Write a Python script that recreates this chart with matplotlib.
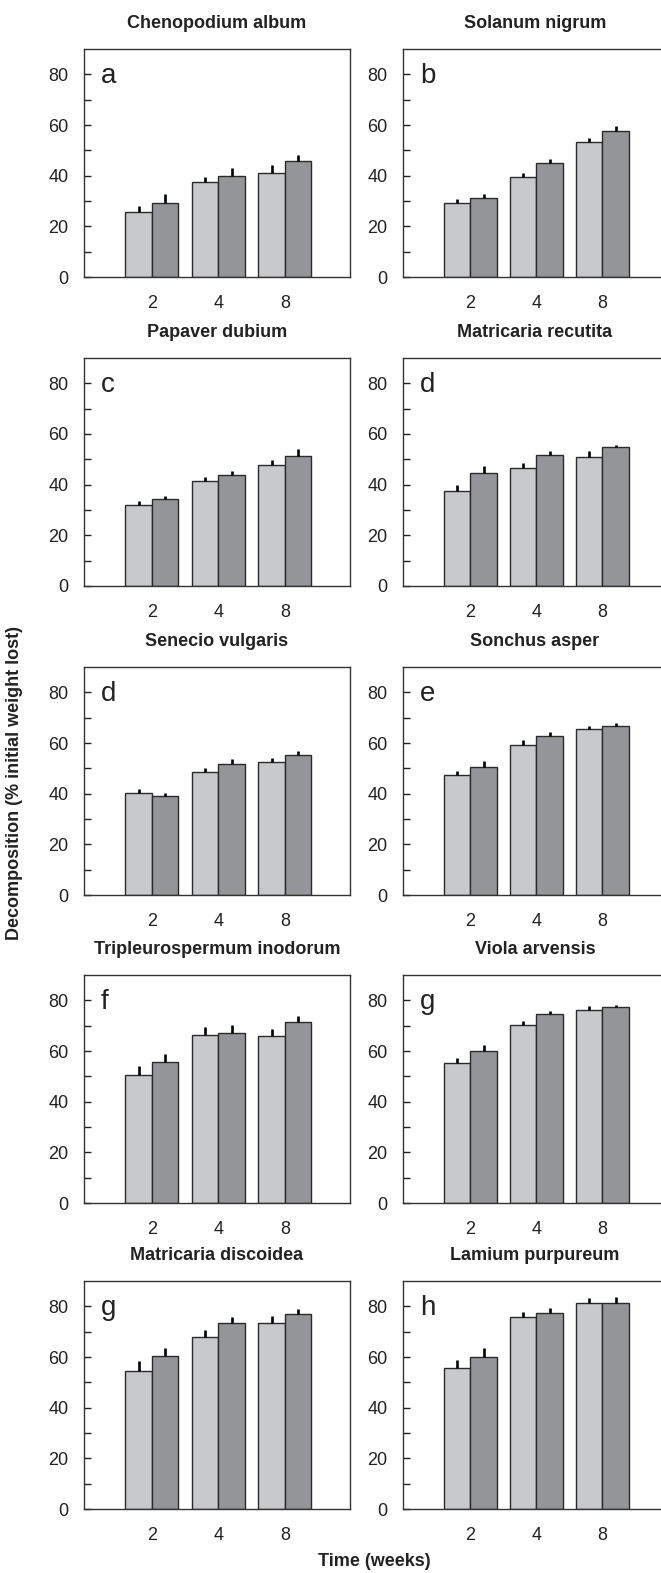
import numpy as np
import matplotlib
matplotlib.use("Agg")
import matplotlib.pyplot as plt
from matplotlib.ticker import MultipleLocator, FixedLocator

plt.rcParams['font.family'] = ['Liberation Sans', 'DejaVu Sans']

weeks = ['2', '4', '8']
titles = ['Chenopodium album', 'Solanum nigrum', 'Papaver dubium', 'Matricaria recutita',
          'Senecio vulgaris', 'Sonchus asper', 'Tripleurospermum inodorum', 'Viola arvensis',
          'Matricaria discoidea', 'Lamium purpureum']
letters = ['a', 'b', 'c', 'd', 'd', 'e', 'f', 'g', 'g', 'h']

# light bars (first treatment) and dark bars (second treatment), per species
light = [[25.5, 37.4, 40.9], [29.2, 39.6, 53.2], [31.8, 41.5, 47.7], [37.4, 46.6, 51.1],
         [40.1, 48.7, 52.5], [47.4, 59.3, 65.6], [50.6, 66.4, 66.0], [55.3, 70.1, 76.3],
         [54.6, 67.9, 73.6], [55.6, 75.7, 81.5]]
light_err = [[2.5, 2.0, 3.2], [1.4, 1.3, 1.7], [1.9, 1.7, 2.1], [2.3, 2.0, 2.1],
             [1.8, 1.4, 1.6], [1.4, 2.0, 1.2], [3.5, 3.0, 2.8], [1.9, 1.7, 1.3],
             [3.8, 2.8, 2.7], [3.1, 2.0, 1.8]]
dark = [[29.2, 39.9, 45.9], [31.2, 45.1, 57.7], [34.3, 43.8, 51.2], [44.5, 51.7, 54.7],
        [38.9, 51.7, 55.3], [50.7, 62.7, 66.7], [55.6, 67.3, 71.4], [59.9, 74.5, 77.2],
        [60.5, 73.6, 77.1], [59.9, 77.4, 81.5]]
dark_err = [[3.4, 3.0, 2.3], [1.4, 1.4, 2.0], [1.3, 1.5, 2.8], [2.8, 1.7, 0.9],
            [1.4, 2.0, 1.7], [2.0, 1.5, 1.0], [3.4, 2.8, 2.5], [2.4, 1.4, 1.0],
            [3.0, 2.3, 1.9], [3.8, 2.0, 2.1]]

W, H = 661, 1573
fig = plt.figure(figsize=(W / 100, H / 100), dpi=100)

col_left = [84, 403]
col_right = [350, 667]
row_top = [49, 358, 667, 975, 1281]
panel_h = 228

x = np.arange(len(weeks))
bw = 0.4
for i in range(10):
    r, c = divmod(i, 2)
    l = col_left[c]
    wpx = col_right[c] - l
    ax = fig.add_axes([l / W, 1 - (row_top[r] + panel_h) / H, wpx / W, panel_h / H])
    ax.bar(x - bw / 2, light[i], bw, color='#c8c9cb', edgecolor='#2a2a2a', linewidth=1, zorder=2)
    ax.bar(x + bw / 2, dark[i], bw, color='#939598', edgecolor='#2a2a2a', linewidth=1, zorder=2)
    ax.vlines(x - bw / 2, light[i], np.array(light[i]) + np.array(light_err[i]),
              color='black', linewidth=1.9, zorder=3)
    ax.vlines(x + bw / 2, dark[i], np.array(dark[i]) + np.array(dark_err[i]),
              color='black', linewidth=1.9, zorder=3)
    ax.set_xlim(-1.02, 2.98)
    ax.set_ylim(0, 90)
    ax.set_xticks(x)
    ax.set_xticklabels(weeks)
    ax.yaxis.set_major_locator(MultipleLocator(20))
    ax.yaxis.set_minor_locator(FixedLocator([10, 30, 50, 70]))
    ax.tick_params(axis='x', length=0, pad=13, labelsize=13, colors='#222222')
    ax.tick_params(axis='y', which='both', direction='in', length=5, width=1,
                   pad=11, labelsize=13, colors='#222222')
    for s in ax.spines.values():
        s.set_color('#333333')
        s.set_linewidth(1)
    ax.set_title(titles[i], fontsize=13, fontweight='bold', pad=15, color='#222222')
    ax.text(17 / wpx, 1 - 34 / panel_h, letters[i], transform=ax.transAxes, fontsize=20,
            va='baseline', ha='left', color='#222222')

fig.text(15 / W, 1 - 783 / H, 'Decomposition (% initial weight lost)', rotation=90,
         fontsize=13, fontweight='bold', ha='center', va='center', color='#222222')
fig.text(374 / W, 1 - 1562 / H, 'Time (weeks)', fontsize=13, fontweight='bold',
         ha='center', va='center', color='#222222')

fig.savefig('out.png', dpi=100)
